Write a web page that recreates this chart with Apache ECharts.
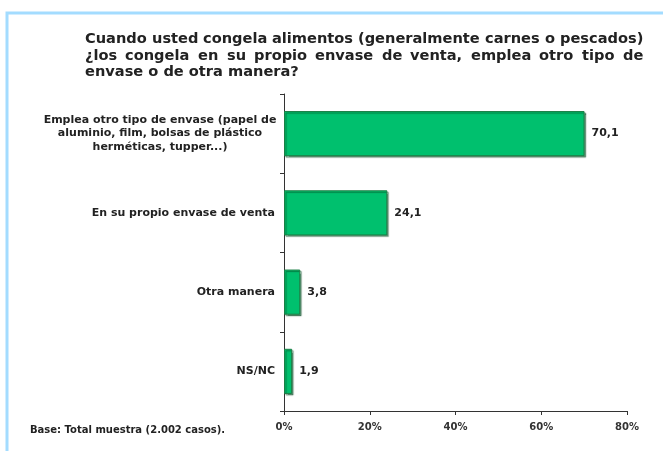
<!DOCTYPE html>
<html><head><meta charset="utf-8">
<script src="https://cdn.jsdelivr.net/npm/echarts@6/dist/echarts.min.js"></script>
<style>html,body{margin:0;padding:0;background:#fff}#c{width:663px;height:451px}</style>
</head><body><div id="c"></div>
<script>
const titleLines = [
  'Cuando usted congela alimentos (generalmente carnes o pescados)',
  '¿los congela en su propio envase de venta, emplea otro tipo de',
  'envase o de otra manera?'
];
const categories = [
  'Emplea otro tipo de envase (papel de\naluminio, film, bolsas de plástico\nherméticas, tupper...)',
  'En su propio envase de venta',
  'Otra manera',
  'NS/NC'
];
const values = [70.1, 24.1, 3.8, 1.9];
const xTicks = [0, 20, 40, 60, 80];
const footnote = 'Base: Total muestra (2.002 casos).';

const FONT = '"DejaVu Sans", Verdana, sans-serif';
const TFONT = 'bold 14.6px ' + FONT;
const ctx = document.createElement('canvas').getContext('2d');
ctx.font = TFONT;
const tLeft = 85, tRight = 643, tTops = [32, 49, 65];
const titleEls = [];
titleLines.forEach((line, i) => {
  const justify = i < titleLines.length - 1;
  if (!justify) {
    titleEls.push({type:'text', left:tLeft, top:tTops[i], style:{text:line, font:TFONT, fill:'#222'}});
    return;
  }
  const words = line.split(' ');
  const widths = words.map(w => ctx.measureText(w).width);
  const total = widths.reduce((a,b)=>a+b,0);
  const gap = Math.max(2, (tRight - tLeft - total) / (words.length - 1));
  let x = tLeft;
  words.forEach((w, k) => {
    titleEls.push({type:'text', left:Math.round(x), top:tTops[i], style:{text:w, font:TFONT, fill:'#222'}});
    x += widths[k] + gap;
  });
});

const chart = echarts.init(document.getElementById('c'), null, {renderer:'canvas'});
chart.setOption({
  animation:false,
  backgroundColor:'#fff',
  grid:{left:284, right:36, top:94, bottom:40, containLabel:false},
  xAxis:{
    type:'value', min:xTicks[0], max:xTicks[xTicks.length-1], interval:20,
    axisLine:{show:true, lineStyle:{color:'#333', width:1}},
    axisTick:{show:true, length:4, lineStyle:{color:'#333'}},
    splitLine:{show:false},
    axisLabel:{formatter:'{value}%', color:'#333', fontFamily:FONT, fontWeight:'bold', fontSize:10, margin:11}
  },
  yAxis:{
    type:'category', data:categories, inverse:true,
    axisLine:{show:true, lineStyle:{color:'#333', width:1}},
    axisTick:{show:true, length:4, inside:false, lineStyle:{color:'#333'}},
    axisLabel:{
      color:'#222', fontFamily:FONT, fontWeight:'bold', fontSize:11, margin:9, lineHeight:13.5,
      formatter: v => v.indexOf('\n') >= 0 ? v.split('\n').map(s => '{a|' + s + '}').join('\n') : v,
      rich:{a:{width:230, align:'center', fontFamily:FONT, fontWeight:'bold', fontSize:11, color:'#222', lineHeight:13.5}}
    }
  },
  series:[{
    type:'bar', data:values, barWidth:'57%',
    itemStyle:{color:'#00c06e', borderColor:'#1b7f45', borderWidth:1,
      shadowColor:'rgba(0,70,30,0.55)', shadowOffsetX:1.5, shadowOffsetY:1.5, shadowBlur:1},
    label:{show:true, position:'right', distance:7, color:'#222', fontFamily:FONT, fontWeight:'bold', fontSize:11,
      formatter: p => String(p.value).replace('.', ',')}
  }],
  graphic:[
    {type:'polyline', shape:{points:[[7,451],[7,13],[663,13]]}, style:{stroke:'#a3dcff', lineWidth:3, fill:null}},
    {type:'text', left:30, top:425, style:{text:footnote, font:'bold 10px ' + FONT, fill:'#222'}}
  ].concat(titleEls)
});
</script></body></html>
